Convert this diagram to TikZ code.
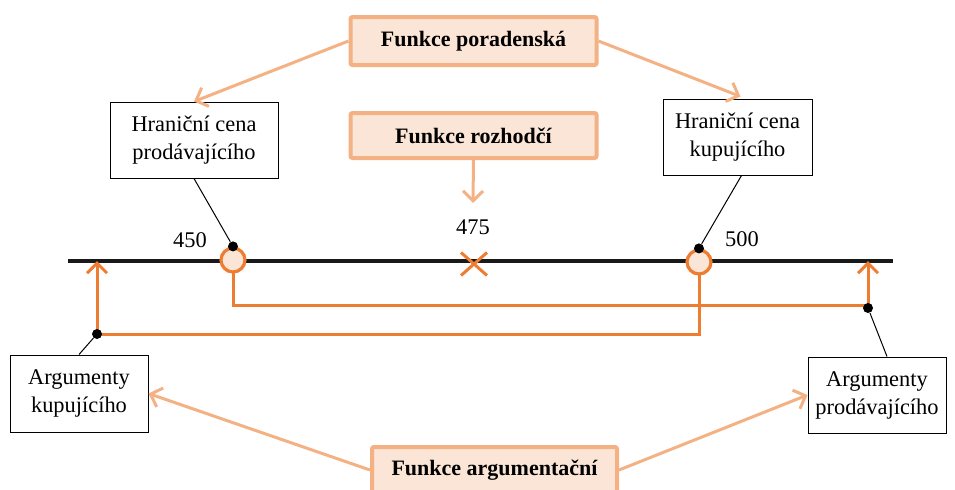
\documentclass[tikz,border=0pt]{standalone}
\usepackage{fontspec}
\setmainfont{Liberation Serif}
\usepackage{xcolor}
\usepackage{tikz}
\usetikzlibrary{shapes,shapes.misc,positioning}
\usetikzlibrary{calc}
\usetikzlibrary{arrows.meta}
\definecolor{oranz}{HTML}{ED7D31}
\definecolor{broskev}{HTML}{F4B183}
\definecolor{svetla}{HTML}{FBE5D6}
\tikzset{
	funkce/.style={draw=broskev,fill=svetla,line width=2pt,rounded corners=1pt,minimum width=123pt,font=\fontsize{11}{13}\selectfont\bfseries},
	cena/.style={draw=black,line width=0.5pt,fill=white,align=center,font=\fontsize{11.2}{14}\selectfont},
	sipka/.style={draw=broskev,line width=1.5pt,-{Straight Barb[length=5pt,width=10pt]}},
	trasa/.style={draw=oranz,line width=1.5pt},
	kruh/.style={circle,draw=oranz,fill=svetla,line width=1.6pt,inner sep=0pt,minimum size=12pt},
	tecka/.style={circle,fill=black,inner sep=0pt,minimum size=5pt}
}

\begin{document}
\begin{tikzpicture}[x=0.5pt,y=-0.5pt]
				\useasboundingbox (0,0) rectangle (955,489);
				\clip (0,0) rectangle (955,489);
				
				%Funkce
				\node[funkce,minimum height=24pt] (poradenska) at (473.5,41) {Funkce poradenská};
				\node[funkce,minimum height=22.5pt] (rozhodci) at (473.5,135.5) {Funkce rozhodčí};
				\node[funkce,minimum width=122.5pt,minimum height=23pt] (argumentacni) at (494.5,470) {Funkce argumentační};
				
				%Hranicni ceny a argumenty
				\node[cena,minimum width=84pt,minimum height=38pt] (hpro) at (194,140) {Hraniční cena\\prodávajícího};
				\node[cena,minimum width=74.5pt,minimum height=38pt] (hkup) at (737.5,137) {Hraniční cena\\kupujícího};
				\node[cena,minimum width=69pt,minimum height=38.5pt] (akup) at (79,393.5) {Argumenty\\kupujícího};
				\node[cena,minimum width=69pt,minimum height=38pt] (apro) at (877,395) {Argumenty\\prodávajícího};
				
				%Osa
				\coordinate (osaL) at (68,261) {};
				\coordinate (osaR) at (893,261) {};
				\draw[line width=2pt,black!90] (osaL) -- (osaR);
				
				%Body na ose
				\coordinate (cilL) at (97,261) {};
				\coordinate (cilR) at (868,261) {};
				\coordinate (rohL) at (97,334) {};
				\coordinate (rohR) at (868,305) {};
				\coordinate (konec) at (473,203) {};
				
				%Orange trasy
				\draw[trasa,-{Straight Barb[length=5pt,width=10pt]}] (233,260) |- (rohR) -- (cilR);
				\draw[trasa,-{Straight Barb[length=5pt,width=10pt]}] (699,262) |- (rohL) -- (cilL);
				
				\node[kruh] (c450) at (233,260) {};
				\node[kruh] (c500) at (699,262) {};
				\node[cross out,draw=oranz,line width=1.5pt,inner sep=0pt,minimum width=11.5pt,minimum height=10pt] (x475) at (474,264) {};
				
				%Cisla
				\node[font=\fontsize{11.2}{13}\selectfont] (n450) at (190,240) {450};
				\node[font=\fontsize{11.2}{13}\selectfont] (n475) at (473,227) {475};
				\node[font=\fontsize{11.2}{13}\selectfont] (n500) at (742,239) {500};
				
				%Tecky a spojnice
				\node[tecka] (t450) at (c450.north) {};
				\node[tecka] (t500) at (c500.north) {};
				\node[tecka] (tL) at (rohL) {};
				\node[tecka] (tR) at ($(rohR)+(0,3)$) {};
				\draw[line width=0.5pt] (t450) -- (hpro.south);
				\draw[line width=0.5pt] (t500) -- ($(hkup.south)+(4,0)$);
				\draw[line width=0.5pt] (tL) -- (akup.north);
				\draw[line width=0.5pt] (tR) -- ($(apro.north)+(10,0)$);
				
				%Sipky
				\draw[sipka] (poradenska.west) -- (hpro.north);
				\draw[sipka] (poradenska.east) -- ($(hkup.north)+(3,-2)$);
				\draw[sipka] (rozhodci.south) -- (konec);
				\draw[sipka] (argumentacni.west) -- (akup.east);
				\draw[sipka] (argumentacni.east) -- (apro.west);
				
			\end{tikzpicture}
\end{document}
